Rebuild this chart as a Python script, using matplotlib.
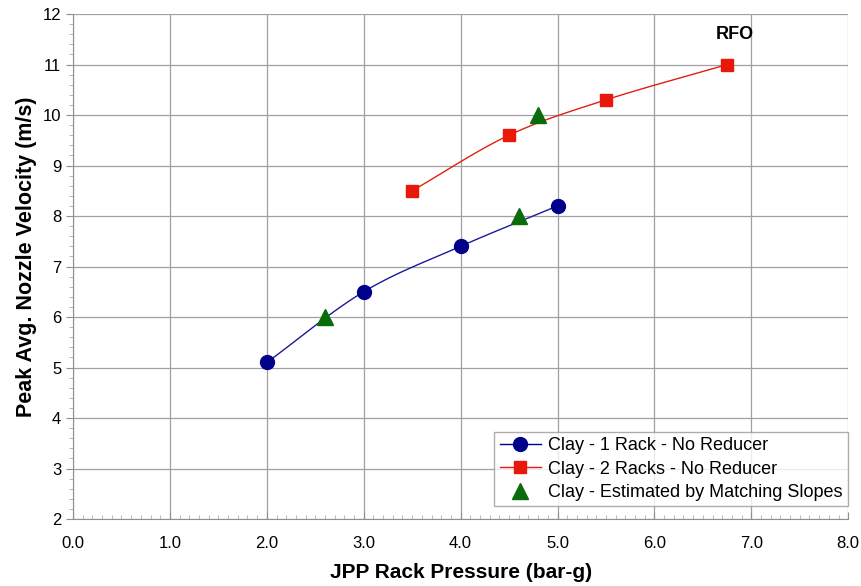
import matplotlib
matplotlib.use('Agg')
import matplotlib.pyplot as plt
from matplotlib.ticker import MultipleLocator, FormatStrFormatter
import numpy as np

# data
rack1_x = [2.0, 3.0, 4.0, 5.0]
rack1_y = [5.1, 6.5, 7.4, 8.2]
rack2_x = [3.5, 4.5, 5.5, 6.75]
rack2_y = [8.5, 9.6, 10.3, 11.0]
est_x = [2.6, 4.6, 4.8]
est_y = [6.0, 8.0, 10.0]


def smooth(xs, ys, n=30):
    # catmull-rom through the points, like excel's smoothed line
    p = np.column_stack([xs, ys]).astype(float)
    p = np.vstack([2 * p[0] - p[1], p, 2 * p[-1] - p[-2]])
    out = []
    t = np.linspace(0, 1, n)
    for i in range(1, len(p) - 2):
        p0, p1, p2, p3 = p[i - 1], p[i], p[i + 1], p[i + 2]
        seg = 0.5 * ((2 * p1)[None, :] + np.outer(t, -p0 + p2)
                     + np.outer(t ** 2, 2 * p0 - 5 * p1 + 4 * p2 - p3)
                     + np.outer(t ** 3, -p0 + 3 * p1 - 3 * p2 + p3))
        out.append(seg)
    s = np.vstack(out)
    return s[:, 0], s[:, 1]


plt.rcParams['font.family'] = ['Liberation Sans', 'DejaVu Sans']

fig = plt.figure(figsize=(8.62, 5.86), dpi=100)
ax = fig.add_axes([0.0847, 0.1143, 0.8993, 0.8618])

sx, sy = smooth(rack1_x, rack1_y)
ax.plot(sx, sy, color='#1a1a9c', lw=1.0, zorder=3)
ax.plot(rack1_x, rack1_y, 'o', color='#00008B', ms=10, zorder=4)
sx, sy = smooth(rack2_x, rack2_y)
ax.plot(sx, sy, color='#E02010', lw=1.0, zorder=3)
ax.plot(rack2_x, rack2_y, 's', color='#E8190B', ms=8, zorder=4)
ax.plot(est_x, est_y, '^', color='#0A6B0A', ms=11, zorder=5)

# legend proxies
h1, = ax.plot([], [], '-o', color='#00008B', ms=10, lw=1.0)
h2, = ax.plot([], [], '-s', color='#E8190B', ms=8, lw=1.0)
h3, = ax.plot([], [], '^', color='#0A6B0A', ms=11, lw=0)
leg = ax.legend([h1, h2, h3],
                ['Clay - 1 Rack - No Reducer', 'Clay - 2 Racks - No Reducer',
                 'Clay - Estimated by Matching Slopes'],
                loc='lower right', bbox_to_anchor=(1.0, 0.025), fontsize=13,
                frameon=True, fancybox=False, edgecolor='#999999',
                handlelength=2.3, borderpad=0.3, labelspacing=0.35,
                handletextpad=0.4, borderaxespad=0.0)
leg.get_frame().set_linewidth(1.0)

ax.text(6.83, 11.6, 'RFO', fontsize=13, fontweight='bold', ha='center', va='center')

ax.set_xlim(0, 8)
ax.set_ylim(2, 12)
ax.xaxis.set_major_locator(MultipleLocator(1.0))
ax.xaxis.set_minor_locator(MultipleLocator(0.1))
ax.xaxis.set_major_formatter(FormatStrFormatter('%.1f'))
ax.yaxis.set_major_locator(MultipleLocator(1))
ax.yaxis.set_minor_locator(MultipleLocator(0.2))
ax.grid(True, which='major', color='#a0a0a0', lw=0.9)
ax.set_axisbelow(True)
for s in ['top', 'right']:
    ax.spines[s].set_visible(False)
for s in ['left', 'bottom']:
    ax.spines[s].set_color('#909090')
ax.tick_params(which='major', length=5, color='#909090', labelsize=12)
ax.tick_params(which='minor', length=3, color='#b0b0b0')
ax.tick_params(axis='x', which='both', direction='in', pad=12)

ax.set_xlabel('JPP Rack Pressure (bar-g)', fontsize=15, fontweight='bold',
              labelpad=9)
ax.set_ylabel('Peak Avg. Nozzle Velocity (m/s)', fontsize=15.5, fontweight='bold',
              labelpad=4, y=0.52)

fig.savefig('out.png', dpi=100)
